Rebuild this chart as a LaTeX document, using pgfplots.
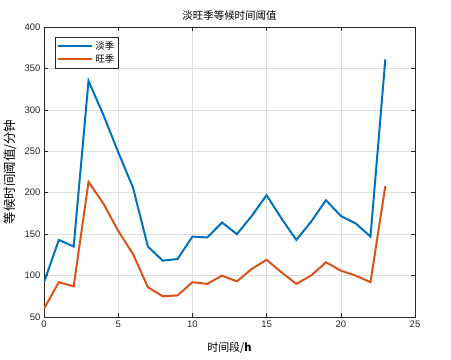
\documentclass[border=0pt]{standalone}
\usepackage{fontspec}
\setmainfont{Liberation Sans}
\newfontfamily\cjk{Noto Sans CJK SC}
\usepackage{pgfplots}
\pgfplotsset{compat=1.18}
\definecolor{mblue}{rgb}{0,0.447,0.741}
\definecolor{morange}{rgb}{0.85,0.325,0.098}
\definecolor{axgray}{rgb}{0.15,0.15,0.15}
\begin{document}
\begin{tikzpicture}
\path[use as bounding box] (-44bp,-43bp) rectangle (407bp,317bp);
\begin{axis}[
  scale only axis,
  width=371bp, height=290bp,
  xmin=0, xmax=25, ymin=50, ymax=400,
  xtick={0,5,...,25}, ytick={50,100,...,400},
  /pgf/number format/assume math mode=true,
  tick label style={font=\fontsize{9.5}{11}\selectfont, text=axgray},
  axis line style={axgray, line width=0.5pt},
  tick style={axgray, line width=0.5pt},
  tick align=inside, major tick length=4bp,
  grid=major, grid style={gray!25, line width=0.5pt},
  title={\cjk 淡旺季等候时间阈值},
  title style={font=\fontsize{10.5}{12}\selectfont, at={(rel axis cs:0.5,1)}, anchor=south, yshift=-3bp},
  xlabel={\cjk 时间段/\textbf{h}},
  xlabel style={font=\fontsize{11}{13}\selectfont, at={(rel axis cs:0.5,0)}, anchor=north, yshift=-22bp},
  ylabel={\cjk 等候时间阈值/分钟},
  ylabel style={font=\fontsize{12.5}{14}\selectfont, at={(rel axis cs:0,0.5)}, anchor=south, yshift=24bp},
  legend style={at={(rel axis cs:0.03,0.966)}, anchor=north west, font=\fontsize{9.5}{11}\selectfont\cjk, draw=axgray, inner xsep=2bp, inner ysep=2.5bp, row sep=-0.5bp},
  legend cell align=left,
  legend image code/.code={\draw[#1, line width=2pt] (0bp,0bp) -- (34bp,0bp);},
]
\addplot[mblue, line width=2pt] coordinates {
(0,92) (1,143) (2,135) (3,335) (4,294) (5,249) (6,206) (7,135) (8,118) (9,120)
(10,147) (11,146) (12,164) (13,150) (14,172) (15,197) (16,169) (17,143) (18,165)
(19,191) (20,172) (21,163) (22,147) (23,361)};
\addlegendentry{淡季}
\addplot[morange, line width=2pt] coordinates {
(0,60) (1,92) (2,87) (3,213) (4,187) (5,154) (6,126) (7,86) (8,75) (9,76)
(10,92) (11,90) (12,100) (13,93) (14,108) (15,119) (16,104) (17,90) (18,100)
(19,116) (20,106) (21,100) (22,92) (23,208)};
\addlegendentry{旺季}
\end{axis}
\end{tikzpicture}
\end{document}
